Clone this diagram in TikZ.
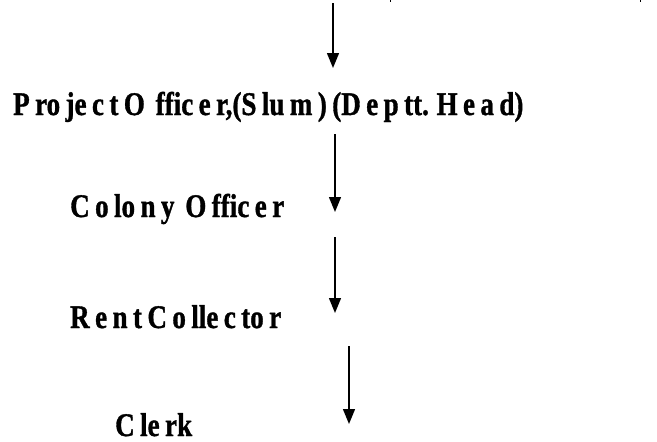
\documentclass[tikz,border=0pt]{standalone}
\usepackage{fontspec}
\setmainfont{Liberation Serif}[BoldFeatures={FakeBold=1.2}, WordSpace=0.8]
\usetikzlibrary{arrows.meta}
\begin{document}
\begin{tikzpicture}[x=1pt, y=-1pt, font=\fontsize{33}{33}\selectfont\bfseries,
			line join=round, >={Triangle[length=15pt,width=12pt]}]
			\tikzset{post/.style={anchor=base west, inner sep=0pt, xscale=0.82},
				down/.style={->, line width=1.4pt}}
			\useasboundingbox (0,0) rectangle (657,442);
			% bits of the line above, cut off
			\draw[line width=1pt] (390,0)--(390,1.5) (640,0)--(640,1.5);
			% posts
			\node[post] (proj) at (13,115) {P ro je c t O~~ffic e r,(S lu m ) (D e p tt. H e a d)};
			\node[post] (colony) at (70,217) {C o lo n y~~O ffic e r};
			\node[post] (rent) at (70,328) {R e n t C o lle c to r};
			\node[post] (clerk) at (115,436) {C le rk};
			% arrows
			\coordinate (a1s) at (333,3);   \coordinate (a1e) at (333,68);
			\coordinate (a2s) at (335,134); \coordinate (a2e) at (335,212);
			\coordinate (a3s) at (335,237); \coordinate (a3e) at (335,313);
			\coordinate (a4s) at (349,346); \coordinate (a4e) at (349,424);
			\draw[down] (a1s)--(a1e);
			\draw[down] (a2s)--(a2e);
			\draw[down] (a3s)--(a3e);
			\draw[down] (a4s)--(a4e);
		\end{tikzpicture}
\end{document}
